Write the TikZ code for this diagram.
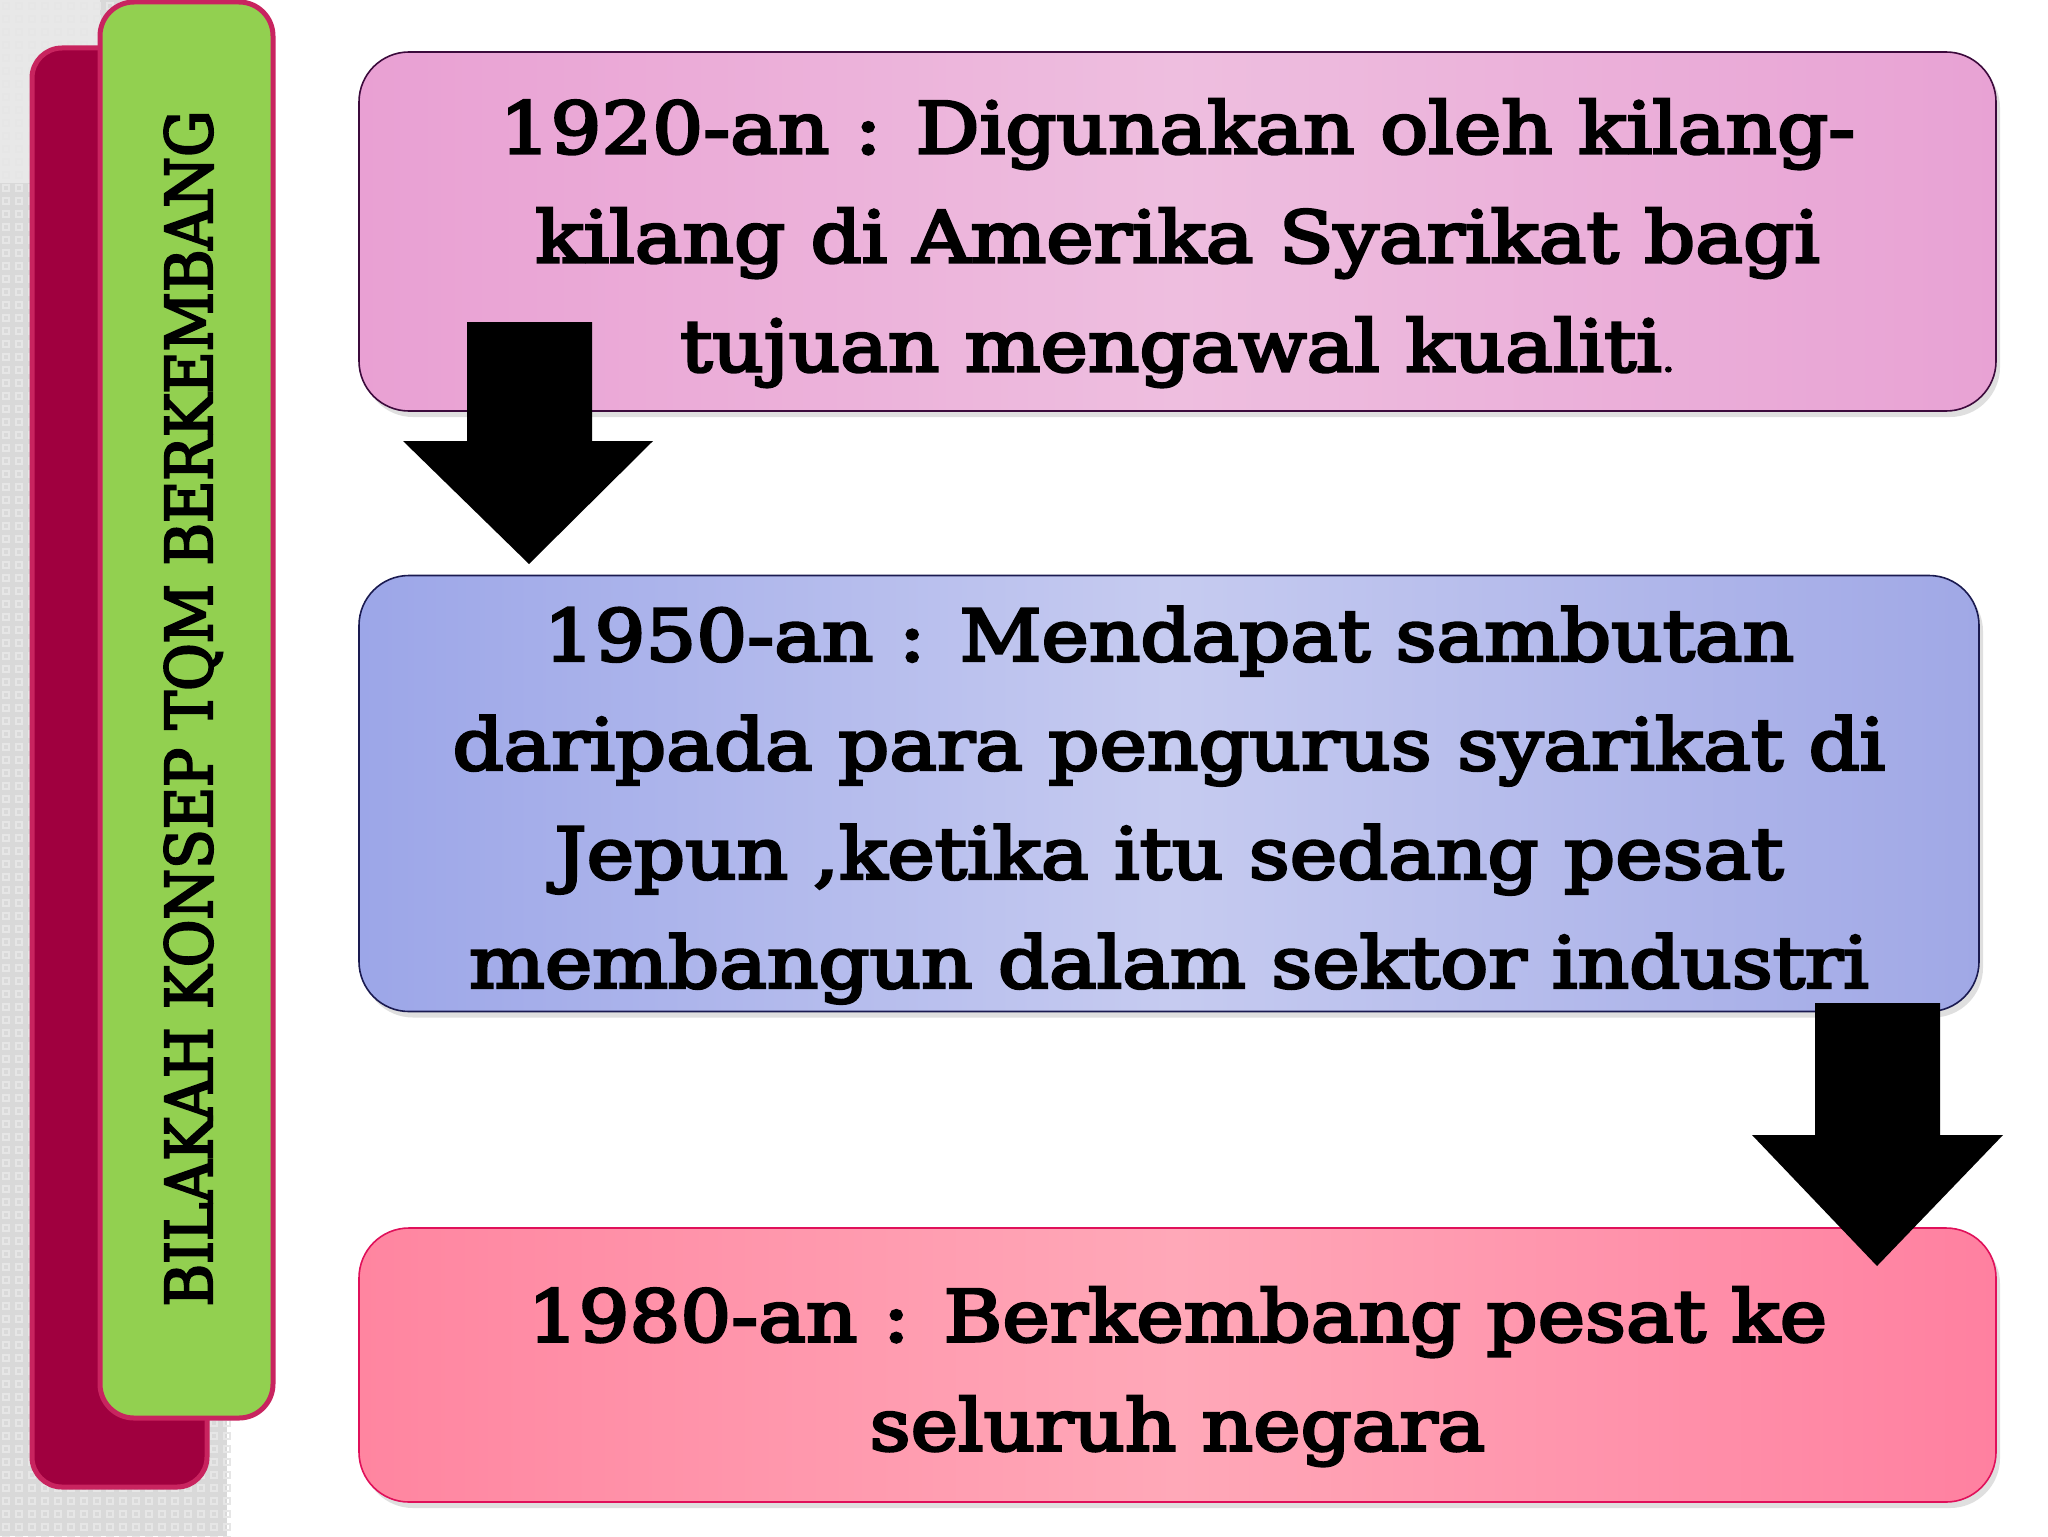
\documentclass[tikz,border=0pt]{standalone}
\usepackage{fontspec}
\setmainfont{DejaVu Serif}[FakeStretch=1.12, FakeBold=4]
\newfontfamily\titlefont{DejaVu Serif}[FakeStretch=0.9, FakeBold=3.5]
\usetikzlibrary{shadows}
\definecolor{crim}{HTML}{A0003F}
\definecolor{crimedge}{HTML}{C8245F}
\definecolor{leaf}{HTML}{92D050}
\definecolor{pinkA}{HTML}{E9A0D3}
\definecolor{pinkB}{HTML}{EEBEDF}
\definecolor{pinkC}{HTML}{E8A2D4}
\definecolor{pinkedge}{HTML}{3C0A3C}
\definecolor{blueA}{HTML}{9CA6E8}
\definecolor{blueB}{HTML}{C6CBF0}
\definecolor{blueC}{HTML}{A0A8E6}
\definecolor{blueedge}{HTML}{1A1A50}
\definecolor{roseA}{HTML}{FF85A0}
\definecolor{roseB}{HTML}{FFA8B8}
\definecolor{roseC}{HTML}{FF80A0}
\definecolor{roseedge}{HTML}{E0105A}
\definecolor{bggrey}{HTML}{D9D9D9}
\definecolor{bglight}{HTML}{E8E8E8}
\definecolor{bgdot}{HTML}{E6E6E6}
\newsavebox\stagebin
\newcommand\stagelines[1]{\sbox\stagebin{\begin{tabular}{@{}c@{}}#1\end{tabular}}\raisebox{-4.5pt}[\ht\stagebin][\dp\stagebin]{\usebox\stagebin}}
\tikzset{
  stagebox/.style={draw, line width=0.8pt, rounded corners=25pt, inner sep=0pt,
    font={\fontsize{35.7}{54.5}\selectfont},
    drop shadow={shadow xshift=2pt, shadow yshift=-3pt, opacity=0.25}},
  tab/.style={draw=crimedge, line width=2.5pt},
  blockarrow/.style={fill=black, draw=none}
}
\begin{document}
\begin{tikzpicture}[x=0.5pt,y=-0.5pt]
\useasboundingbox (0,0) rectangle (2048,1536);
\fill[white] (0,0) rectangle (2048,1536);
% background strip
\fill[bggrey] (0,0) rectangle (227,1536);
\fill[bglight] (0,0) rectangle (100,183);
\foreach \i in {0,...,17} {
  \foreach \j in {0,...,118} {
    \draw[bgdot, line width=0.6pt] (\i*13+3,\j*13+3) rectangle ++(6,6);
  }
}
% tabs
\draw[tab, fill=crim, rounded corners=15pt] (32,48) rectangle (207,1487);
\draw[tab, fill=leaf, rounded corners=17pt] (100,2) rectangle (273,1418);
\node[rotate=90, anchor=base, font={\titlefont\fontsize{32.2}{38}\selectfont}] (title) at (212,708.5) {BILAKAH KONSEP TQM BERKEMBANG};
% stage boxes
\node[stagebox, draw=pinkedge, left color=pinkA, right color=pinkC, middle color=pinkB,
  minimum width=818.5pt, minimum height=179.5pt] (s1) at (1177.5,231.5)
  {\stagelines{1920-an : Digunakan oleh kilang-\\kilang di Amerika Syarikat bagi\\tujuan mengawal kualiti{\fontsize{18}{18}\selectfont .}}};
\node[stagebox, draw=blueedge, left color=blueA, right color=blueC, middle color=blueB,
  minimum width=810pt, minimum height=212.5pt] (s2) at (1169,793.5)
  {\stagelines{1950-an : Mendapat sambutan\\daripada para pengurus syarikat di\\Jepun ,ketika itu sedang pesat\\membangun dalam sektor industri}};
\node[stagebox, draw=roseedge, left color=roseA, right color=roseC, middle color=roseB,
  minimum width=818.5pt, minimum height=137pt] (s3) at (1177.5,1365)
  {\stagelines{1980-an : Berkembang pesat ke\\seluruh negara}};
% block arrows
\fill[blockarrow] (467,322) -- (592,322) -- (592,441) -- (653,441) -- (529,564) -- (403,441) -- (467,441) -- cycle;
\fill[blockarrow] (1815,1003) -- (1940,1003) -- (1940,1135) -- (2003,1135) -- (1877,1266) -- (1752,1135) -- (1815,1135) -- cycle;
\end{tikzpicture}
\end{document}
